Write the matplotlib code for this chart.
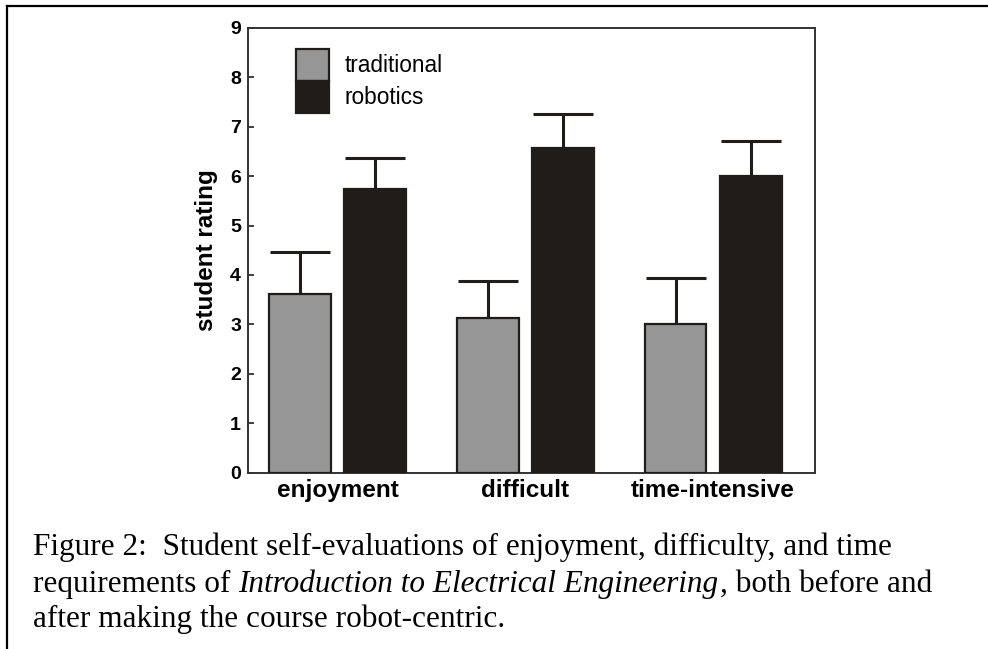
import matplotlib
matplotlib.use("Agg")
import matplotlib.pyplot as plt
from matplotlib.lines import Line2D
import numpy as np

categories = ["enjoyment", "difficult", "time-intensive"]
series_names = ["traditional", "robotics"]
traditional = [3.61, 3.12, 3.00]
traditional_err = [0.85, 0.76, 0.93]
robotics = [5.75, 6.57, 6.01]
robotics_err = [0.62, 0.68, 0.71]
yticks = [0, 1, 2, 3, 4, 5, 6, 7, 8, 9]

W, H = 988, 649
fig = plt.figure(figsize=(W / 100, H / 100), dpi=100)
ax = fig.add_axes([248 / W, 1 - 472.5 / H, (815 - 248) / W, (472.5 - 28) / H])

gray = "#969696"
dark = "#201c1a"
x = np.arange(len(categories))
bw = 0.33
off = 0.2
ekw = dict(ecolor=dark, elinewidth=2.2, capsize=21.5, capthick=2.2)
c1 = ax.bar(x - off, traditional, bw, color=gray, edgecolor=dark, linewidth=1.6,
            yerr=[np.zeros(3), traditional_err], error_kw=ekw, label=series_names[0], zorder=3)
c2 = ax.bar(x + off, robotics, bw, color=dark, edgecolor=dark, linewidth=1.6,
            yerr=[np.zeros(3), robotics_err], error_kw=ekw, label=series_names[1], zorder=3)
for c in (c1, c2):
    caplines = c.errorbar.lines[1]
    caplines[0].set_visible(False)

ax.set_xlim(-0.477, 2.543)
ax.set_ylim(0, 9)
ax.set_yticks(yticks)
ax.set_yticklabels([str(t) for t in yticks], fontsize=14, fontweight="bold", family="Liberation Sans")
ax.set_xticks(x)
ax.set_xticklabels(categories, fontsize=17.5, fontweight="bold", family="Liberation Sans")
ax.tick_params(axis="x", length=0, pad=5)
ax.tick_params(axis="y", direction="in", length=4, width=1.2, color=dark, pad=5)
for s in ax.spines.values():
    s.set_linewidth(1.4)
    s.set_color("#333333")
ax.set_ylabel("student rating", fontsize=17.5, fontweight="bold", family="Liberation Sans", labelpad=9)

leg = ax.legend(loc="upper left", bbox_to_anchor=(0.0847, 0.953), frameon=False,
                prop=dict(family="Liberation Sans", size=16.3), handlelength=1.46, handleheight=1.8,
                labelspacing=0.0, handletextpad=0.7, borderpad=0, borderaxespad=0)

# frame lines
fig.add_artist(Line2D([7 / W, 1.0], [1 - 6 / H, 1 - 6 / H], transform=fig.transFigure, color="black", lw=1.6))
fig.add_artist(Line2D([7 / W, 7 / W], [0, 1 - 6 / H], transform=fig.transFigure, color="black", lw=1.6))

serif = "Liberation Serif"
fs = 22.5
fig.text(33 / W, 1 - 555 / H, "Figure 2:  Student self-evaluations of enjoyment, difficulty, and time",
         family=serif, fontsize=fs, va="baseline")
t1 = fig.text(33 / W, 1 - 592 / H, "requirements of ", family=serif, fontsize=fs, va="baseline")
t2 = fig.text(0, 0, "Introduction to Electrical Engineering", family=serif, fontsize=fs, style="italic", va="baseline")
t3 = fig.text(0, 0, ", both before and", family=serif, fontsize=fs, va="baseline")
fig.text(33 / W, 1 - 627 / H, "after making the course robot-centric.", family=serif, fontsize=fs, va="baseline")

fig.canvas.draw()
r = fig.canvas.get_renderer()
inv = fig.transFigure.inverted()
b1 = t1.get_window_extent(r)
y2 = 1 - 592 / H
t2.set_position((inv.transform((b1.x1, 0))[0], y2))
fig.canvas.draw()
b2 = t2.get_window_extent(r)
t3.set_position((inv.transform((b2.x1 + 2, 0))[0], y2))

fig.savefig("out.png", dpi=100)
